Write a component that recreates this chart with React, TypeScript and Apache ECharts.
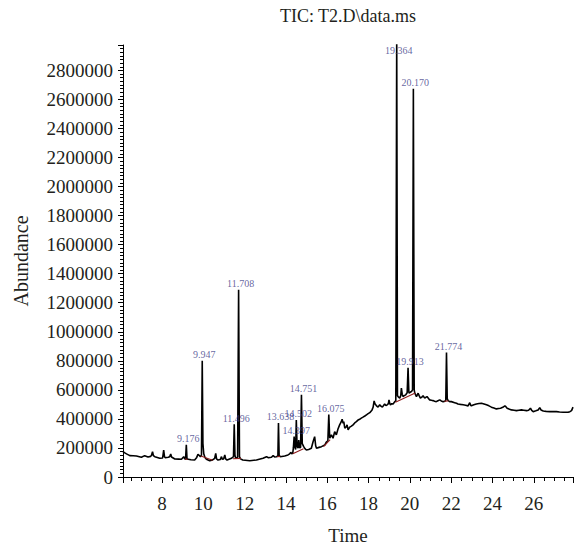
import React, { useEffect, useRef } from "react";
import * as echarts from "echarts";

// Retention time (min) of each trace point
const traceTime: number[] = [
  6.11, 6.2, 6.28, 6.44, 6.6, 6.76, 6.9, 7.0, 7.16, 7.32, 7.45, 7.49, 7.54, 7.58, 7.65, 7.89,
  8.03, 8.08, 8.12, 8.15, 8.3, 8.37, 8.42, 8.46, 8.62, 8.8, 8.94, 9.05, 9.1, 9.14, 9.176, 9.21,
  9.4, 9.58, 9.68, 9.74, 9.86, 9.91, 9.947, 9.98, 10.02, 10.08, 10.15, 10.31, 10.45, 10.55, 10.6,
  10.64, 10.71, 10.82, 10.88, 10.92, 10.98, 11.04, 11.08, 11.15, 11.36, 11.46, 11.496, 11.53,
  11.57, 11.66, 11.708, 11.75, 11.8, 11.91, 12.25, 12.57, 12.89, 13.06, 13.15, 13.3, 13.38,
  13.45, 13.54, 13.61, 13.638, 13.67, 13.73, 13.94, 14.1, 14.18, 14.23, 14.28, 14.33, 14.36,
  14.397, 14.43, 14.47, 14.502, 14.54, 14.59, 14.62, 14.66, 14.71, 14.751, 14.79, 14.86, 14.92,
  14.99, 15.1, 15.23, 15.31, 15.39, 15.44, 15.48, 15.6, 15.72, 15.88, 15.96, 16.03, 16.075,
  16.12, 16.2, 16.28, 16.36, 16.44, 16.52, 16.6, 16.68, 16.72, 16.77, 16.8, 16.85, 16.93, 16.96,
  17.01, 17.09, 17.17, 17.25, 17.33, 17.41, 17.49, 17.57, 17.65, 17.73, 17.82, 17.9, 17.98,
  18.06, 18.17, 18.22, 18.27, 18.31, 18.35, 18.4, 18.46, 18.54, 18.6, 18.67, 18.78, 18.84, 18.9,
  18.96, 18.99, 19.03, 19.06, 19.12, 19.19, 19.27, 19.32, 19.364, 19.4, 19.43, 19.51, 19.56,
  19.59, 19.63, 19.67, 19.73, 19.8, 19.87, 19.913, 19.95, 19.96, 20.03, 20.08, 20.13, 20.17,
  20.21, 20.24, 20.32, 20.4, 20.45, 20.51, 20.58, 20.64, 20.72, 20.77, 20.83, 20.96, 21.05,
  21.12, 21.2, 21.28, 21.36, 21.45, 21.52, 21.61, 21.7, 21.74, 21.774, 21.81, 21.85, 21.93,
  22.01, 22.17, 22.26, 22.33, 22.45, 22.58, 22.7, 22.82, 22.9, 22.94, 22.98, 23.1, 23.22, 23.35,
  23.47, 23.59, 23.71, 23.83, 23.95, 24.07, 24.19, 24.3, 24.39, 24.5, 24.6, 24.65, 24.71, 24.8,
  24.92, 25.05, 25.16, 25.28, 25.4, 25.52, 25.65, 25.75, 25.84, 25.9, 25.97, 26.1, 26.21, 26.29,
  26.35, 26.46, 26.6, 26.78, 26.95, 27.1, 27.25, 27.42, 27.55, 27.66, 27.75, 27.83, 27.9,
];

// Abundance of each trace point
const traceAbundance: number[] = [
  174000, 166000, 159000, 147000, 146000, 145000, 140000, 136000, 147000, 138000, 142000, 150000,
  174000, 148000, 140000, 129000, 131000, 186000, 140000, 133000, 136000, 140000, 159000, 138000,
  124000, 123000, 122000, 140000, 125000, 123000, 221000, 124000, 119000, 117000, 135000, 157000,
  140000, 150000, 800000, 230000, 160000, 135000, 122000, 112000, 118000, 129000, 163000, 125000,
  117000, 120000, 140000, 122000, 124000, 152000, 125000, 117000, 129000, 140000, 363000, 150000,
  129000, 135000, 1290000, 140000, 125000, 117000, 112000, 117000, 129000, 140000, 133000, 136000,
  147000, 138000, 140000, 145000, 372000, 150000, 140000, 145000, 152000, 159000, 170000, 160000,
  165000, 200000, 278000, 209000, 190000, 393000, 210000, 200000, 255000, 200000, 205000, 566000,
  230000, 209000, 195000, 186000, 190000, 198000, 241000, 278000, 215000, 198000, 204000, 209000,
  220000, 241000, 250000, 430000, 267000, 290000, 267000, 312000, 290000, 330000, 359000, 381000,
  398000, 370000, 381000, 336000, 347000, 359000, 325000, 343000, 350000, 359000, 372000, 381000,
  392000, 398000, 405000, 412000, 420000, 428000, 436000, 443000, 462000, 480000, 524000, 505000,
  497000, 488000, 481000, 497000, 488000, 481000, 503000, 492000, 497000, 505000, 531000, 505000,
  497000, 505000, 503000, 519000, 525000, 3050000, 560000, 554000, 543000, 560000, 612000, 570000,
  554000, 560000, 566000, 580000, 752000, 590000, 577000, 585000, 589000, 600000, 2674000, 600000,
  577000, 554000, 577000, 560000, 543000, 550000, 559000, 543000, 548000, 554000, 531000, 528000,
  526000, 522000, 519000, 525000, 531000, 524000, 519000, 522000, 530000, 858000, 540000, 526000,
  519000, 519000, 512000, 508000, 503000, 500000, 497000, 494000, 490000, 512000, 495000, 490000,
  497000, 503000, 506000, 508000, 503000, 497000, 490000, 481000, 475000, 469000, 472000, 474000,
  480000, 490000, 484000, 474000, 468000, 462000, 460000, 457000, 460000, 462000, 460000, 457000,
  460000, 474000, 458000, 450000, 456000, 462000, 478000, 462000, 455000, 452000, 450000, 451000,
  450000, 448000, 446000, 446000, 446000, 450000, 457000, 481000,
];

// Labelled peaks
const peakLabels: string[] = [
  "9.176", "9.947", "11.496", "11.708", "13.638", "14.397", "14.502", "14.751", "16.075",
  "19.364", "19.913", "20.170", "21.774",
];
const peakTimes: number[] = [
  9.176, 9.947, 11.496, 11.708, 13.638, 14.397, 14.502, 14.751, 16.075, 19.364, 19.913, 20.17,
  21.774,
];
const peakHeights: number[] = [
  221000, 800000, 363000, 1290000, 372000, 278000, 393000, 566000, 430000, 3050000, 752000,
  2674000, 858000,
];

// Integration baselines: [startTime, startAbundance, endTime, endAbundance]
const baselineSegments: number[][] = [
  [9.12, 125000, 9.23, 121000],
  [9.88, 145000, 10.45, 115000],
  [11.44, 126000, 11.82, 128000],
  [13.58, 140000, 13.72, 142000],
  [14.33, 160000, 14.85, 195000],
  [15.82, 209000, 16.14, 258000],
  [19.3, 515000, 20.26, 578000],
  [21.68, 521000, 21.86, 525000],
];

const yTicksLabelStep = 200000;
const X_MIN = 6.11;
const X_MAX = 27.9;
const Y_MAX = 2975000;

const FONT = "Liberation Serif";
const TEXT_COLOR = "#231f20";

export default function App() {
  const ref = useRef<HTMLDivElement>(null);

  useEffect(() => {
    if (!ref.current) return;
    const chart = echarts.init(ref.current, undefined, { renderer: "svg" });

    const trace = traceTime.map((t, i) => [t, traceAbundance[i]]);
    const labelData = peakTimes.map((t, i) => {
      const clipped = peakHeights[i] > Y_MAX;
      return {
        value: [t, Math.min(peakHeights[i], Y_MAX)],
        label: clipped
          ? { position: "bottom", distance: 0 }
          : { position: "top", distance: 1 },
      };
    });

    const baselineSeries = baselineSegments.map((s) => ({
      type: "line",
      data: [
        [s[0], s[1]],
        [s[2], s[3]],
      ],
      showSymbol: false,
      symbol: "none",
      lineStyle: { color: "#8e1c1c", width: 1.1 },
      silent: true,
      z: 3,
    }));

    chart.setOption({
      animation: false,
      backgroundColor: "#ffffff",
      textStyle: { fontFamily: FONT },
      graphic: [
        {
          type: "text",
          x: 348,
          y: 16,
          style: {
            text: "TIC: T2.D\\data.ms",
            font: `18px "${FONT}"`,
            fill: TEXT_COLOR,
            align: "center",
            verticalAlign: "middle",
            textAlign: "center",
            textVerticalAlign: "middle",
          },
        },
      ],
      grid: {
        left: 123,
        right: 1,
        top: 45,
        bottom: 73,
        containLabel: false,
        outerBoundsMode: "none",
      },
      xAxis: {
        type: "value",
        min: X_MIN,
        max: X_MAX,
        splitNumber: 11,
        name: "Time",
        nameLocation: "middle",
        nameGap: 49,
        nameTextStyle: { fontFamily: FONT, fontSize: 19, color: TEXT_COLOR },
        axisLine: { show: true, onZero: false, lineStyle: { color: "#000", width: 1 } },
        axisTick: { show: true, length: 6, lineStyle: { color: "#000", width: 1 } },
        minorTick: { show: true, splitNumber: 4, length: 4, lineStyle: { color: "#000", width: 1 } },
        splitLine: { show: false },
        minorSplitLine: { show: false },
        axisLabel: {
          showMinLabel: false,
          showMaxLabel: false,
          margin: 17,
          fontFamily: FONT,
          fontSize: 19,
          color: TEXT_COLOR,
          formatter: (v: number) => (Math.abs(v - Math.round(v)) < 1e-6 ? String(Math.round(v)) : ""),
        },
      },
      yAxis: {
        type: "value",
        min: 0,
        max: Y_MAX,
        interval: yTicksLabelStep,
        name: "Abundance",
        nameLocation: "middle",
        nameGap: 92,
        nameRotate: 90,
        nameTextStyle: { fontFamily: FONT, fontSize: 20, color: TEXT_COLOR },
        axisLine: { show: true, lineStyle: { color: "#000", width: 1 } },
        axisTick: { show: true, length: 5, lineStyle: { color: "#000", width: 1 } },
        minorTick: { show: true, splitNumber: 8, length: 3, lineStyle: { color: "#000", width: 1 } },
        splitLine: { show: false },
        minorSplitLine: { show: false },
        axisLabel: {
          showMaxLabel: false,
          margin: 10,
          fontFamily: FONT,
          fontSize: 19,
          color: TEXT_COLOR,
          formatter: (v: number) => String(Math.round(v)),
        },
      },
      series: [
        {
          type: "line",
          data: trace,
          showSymbol: false,
          symbol: "none",
          lineStyle: { color: "#000000", width: 1.6 },
          clip: true,
          silent: true,
          z: 2,
        },
        ...baselineSeries,
        {
          type: "scatter",
          data: labelData,
          symbolSize: 0,
          clip: false,
          silent: true,
          z: 4,
          label: {
            show: true,
            offset: [2, 0],
            formatter: (p: any) => peakLabels[p.dataIndex],
            fontFamily: FONT,
            fontSize: 10,
            color: "#3c3c88",
          },
        },
      ],
    });

    return () => chart.dispose();
  }, []);

  return (
    <div
      ref={ref}
      style={{ position: "fixed", left: 0, top: 0, width: 574, height: 550, background: "#fff" }}
    />
  );
}
